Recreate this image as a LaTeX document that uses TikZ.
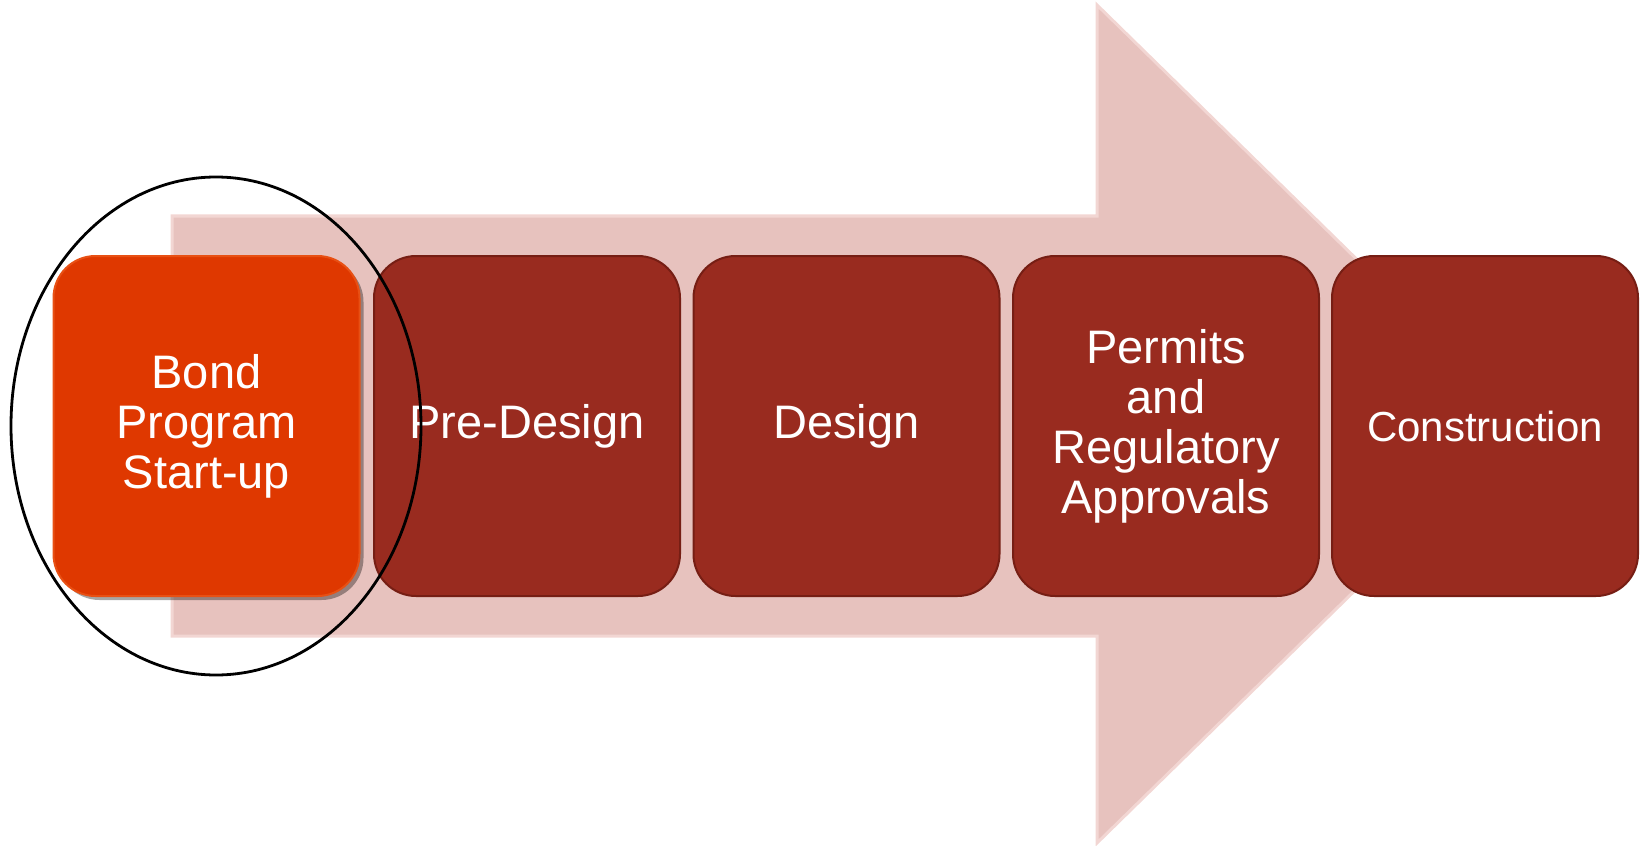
\documentclass[tikz,border=0pt]{standalone}
\usepackage{fontspec}
\setmainfont{Liberation Sans}
\usetikzlibrary{shapes.geometric,shadows}
\definecolor{arrowfill}{RGB}{231,194,190}
\definecolor{arrowedge}{RGB}{242,214,211}
\definecolor{boxfill}{RGB}{153,43,31}
\definecolor{boxedge}{RGB}{118,30,20}
\definecolor{activefill}{RGB}{223,56,0}
\definecolor{activelight}{RGB}{232,80,20}
\tikzset{
  stagebox/.style={rectangle, rounded corners=21pt, fill=boxfill, draw=boxedge,
    line width=1pt, minimum width=153pt, minimum height=170pt,
    text=white, align=center, font=\fontsize{23.5}{25}\selectfont, inner sep=0pt},
  activebox/.style={stagebox, draw=activelight, fill=activefill,
    drop shadow={shadow xshift=2pt, shadow yshift=-2pt, fill=black, opacity=0.35}},
  bigarrow/.style={fill=arrowfill, draw=arrowedge, line width=1.5pt, line join=miter},
  focusring/.style={ellipse, draw=black, line width=1.4pt, minimum width=205pt, minimum height=249pt, inner sep=0pt}
}
\begin{document}
\begin{tikzpicture}[x=0.5pt,y=-0.5pt]
\useasboundingbox (0,0) rectangle (1641,845);
% big background arrow
\draw[bigarrow] (172,216) -- (1097,216) -- (1097,5) -- (1525,424) -- (1097,843) -- (1097,636) -- (172,636) -- cycle;
% stages
\node[activebox] (bond) at (206.5,426) {Bond\\Program\\Start-up};
\node[stagebox] (pre) at (527,426) {Pre-Design};
\node[stagebox] (design) at (846.5,426) {Design};
\node[stagebox] (permits) at (1166,426) {Permits\\and\\Regulatory\\Approvals};
\node[stagebox, font=\fontsize{21}{25}\selectfont] (construction) at (1485,426) {Construction};
% highlight ring
\node[focusring] (ring) at (216,426) {};
\end{tikzpicture}
\end{document}
